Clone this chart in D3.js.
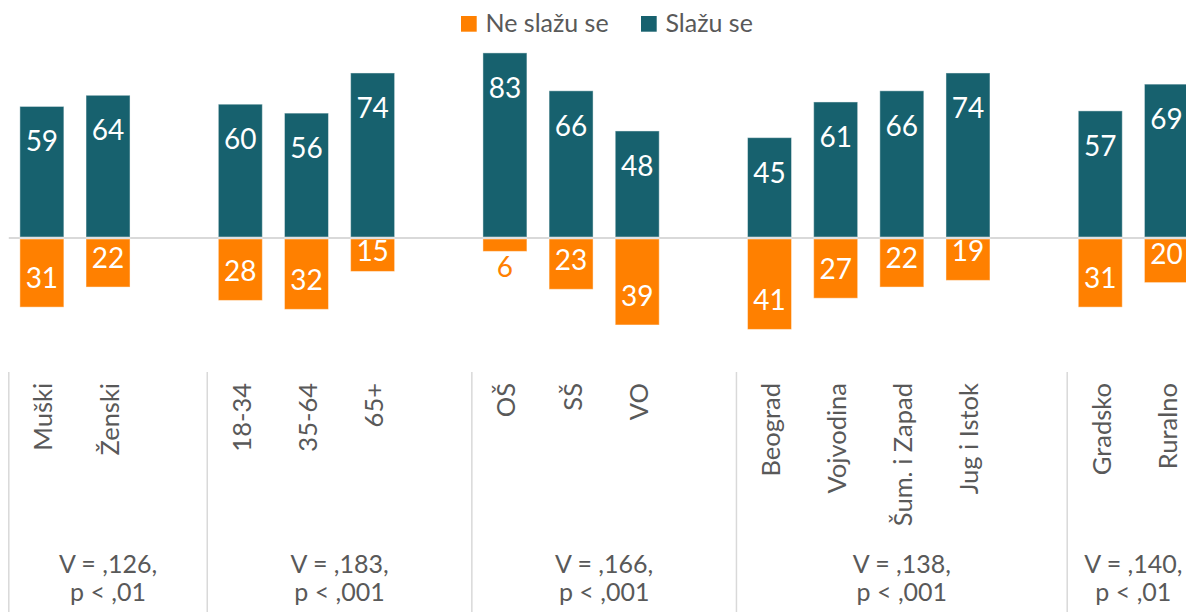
<!DOCTYPE html>
<html>
<head>
<meta charset="utf-8">
<script src="https://cdn.jsdelivr.net/npm/d3@7"></script>
<style>
  html, body { margin: 0; padding: 0; background: #fff; }
  svg { display: block; font-family: Lato, "Noto Sans", sans-serif; }
</style>
</head>
<body>
<svg id="chart" width="1186" height="612"></svg>
<script>
// ---- data ----
const categories = ["Muški", "Ženski", "18-34", "35-64", "65+", "OŠ", "SŠ", "VO",
  "Beograd", "Vojvodina", "Šum. i Zapad", "Jug i Istok", "Gradsko", "Ruralno"];
const slazuSe   = [59, 64, 60, 56, 74, 83, 66, 48, 45, 61, 66, 74, 57, 69];
const neSlazuSe = [31, 22, 28, 32, 15, 6, 23, 39, 41, 27, 22, 19, 31, 20];
const groupOf   = [0, 0, 1, 1, 1, 2, 2, 2, 3, 3, 3, 3, 4, 4];
const groupLabels = [
  ["V = ,126,", "p < ,01"],
  ["V = ,183,", "p < ,001"],
  ["V = ,166,", "p < ,001"],
  ["V = ,138,", "p < ,001"],
  ["V = ,140,", "p < ,01"]
];
const seriesNames = ["Ne slažu se", "Slažu se"];
const yDomain = [-60, 100];

// ---- styles ----
const TEAL = "#17616e", ORANGE = "#ff8000", TEXT = "#595959", GRID = "#d9d9d9";

// slots: each group followed by an empty spacer slot (except the last)
const slots = [];
const nGroups = groupLabels.length;
for (let g = 0; g < nGroups; g++) {
  categories.forEach((c, i) => { if (groupOf[i] === g) slots.push(c); });
  if (g < nGroups - 1) slots.push("__gap" + g);
}

const svg = d3.select("#chart");
const left = 8.8, right = 1199.5;
const x = d3.scaleBand().domain(slots).range([left, right])
  .paddingInner(0.335).paddingOuter(0.1675);
const y = d3.scaleLinear().domain(yDomain).range([371.8, 15]);
const step = x.step();
const slotStart = s => x(s) - x.paddingOuter() * step;

// baseline
svg.append("line")
  .attr("x1", left).attr("x2", right)
  .attr("y1", y(0)).attr("y2", y(0))
  .attr("stroke", GRID).attr("stroke-width", 2);

const data = categories.map((c, i) => ({ c, pos: slazuSe[i], neg: neSlazuSe[i] }));

// bars
svg.append("g").selectAll("rect").data(data).join("rect")
  .attr("x", d => x(d.c)).attr("width", x.bandwidth())
  .attr("y", d => y(d.pos)).attr("height", d => y(0) - 1 - y(d.pos))
  .attr("fill", TEAL).attr("stroke", "rgba(255,255,255,0.45)").attr("stroke-width", 1);
svg.append("g").selectAll("rect").data(data).join("rect")
  .attr("x", d => x(d.c)).attr("width", x.bandwidth())
  .attr("y", y(0) + 1).attr("height", d => y(-d.neg) - y(0) - 1)
  .attr("fill", ORANGE).attr("stroke", "rgba(255,255,255,0.45)").attr("stroke-width", 1);

// value labels
const vFont = 28;
svg.append("g").selectAll("text").data(data).join("text")
  .attr("x", d => x(d.c) + x.bandwidth() / 2)
  .attr("y", d => y(d.pos) + 45)
  .attr("text-anchor", "middle").attr("font-size", vFont).attr("fill", "#fff")
  .text(d => d.pos);
svg.append("g").selectAll("text").data(data).join("text")
  .attr("x", d => x(d.c) + x.bandwidth() / 2)
  .attr("y", d => {
    const bottom = y(-d.neg);
    if (bottom - y(0) < 25) return bottom + 26;
    return Math.max(bottom - 19, y(0) + 23);
  })
  .attr("text-anchor", "middle").attr("font-size", vFont)
  .attr("fill", d => (y(-d.neg) - y(0) < 25) ? ORANGE : "#fff")
  .text(d => d.neg);

// category labels (rotated)
svg.append("g").selectAll("text").data(categories).join("text")
  .attr("transform", c => `translate(${x(c) + x.bandwidth() / 2 + 10.5},383) rotate(-90)`)
  .attr("text-anchor", "end").attr("font-size", 25.5).attr("fill", TEXT)
  .text(c => c);

// group dividers and labels
const groupBounds = groupLabels.map((g, gi) => {
  const members = slots.filter(s => {
    const idx = categories.indexOf(s);
    return idx >= 0 && groupOf[idx] === gi;
  });
  const startSlot = members[0];
  let endIdx = slots.indexOf(members[members.length - 1]);
  if (gi < nGroups - 1) endIdx += 1; // include spacer
  const x0 = slotStart(startSlot);
  const x1 = slotStart(slots[endIdx]) + step;
  return { x0, x1, lines: g };
});
const dividerXs = groupBounds.map(b => b.x0).concat([groupBounds[nGroups - 1].x1]);
svg.append("g").selectAll("line").data(dividerXs).join("line")
  .attr("x1", d => d).attr("x2", d => d)
  .attr("y1", 372).attr("y2", 612)
  .attr("stroke", GRID).attr("stroke-width", 1.5);

const gl = svg.append("g").selectAll("text").data(groupBounds).join("text")
  .attr("text-anchor", "middle").attr("font-size", 25).attr("fill", TEXT);
gl.each(function (b) {
  const t = d3.select(this);
  b.lines.forEach((ln, i) => {
    t.append("tspan").attr("x", (b.x0 + b.x1) / 2).attr("y", 572.5 + i * 28.5).text(ln);
  });
});

// legend
const legend = svg.append("g");
const legendItems = [
  { name: seriesNames[0], color: ORANGE, x: 461 },
  { name: seriesNames[1], color: TEAL, x: 641 }
];
legendItems.forEach(it => {
  legend.append("rect").attr("x", it.x).attr("y", 16).attr("width", 15.7).attr("height", 15.7)
    .attr("fill", it.color);
  legend.append("text").attr("x", it.x + 24.5).attr("y", 32.3)
    .attr("font-size", 25).attr("fill", TEXT).text(it.name);
});
</script>
</body>
</html>
